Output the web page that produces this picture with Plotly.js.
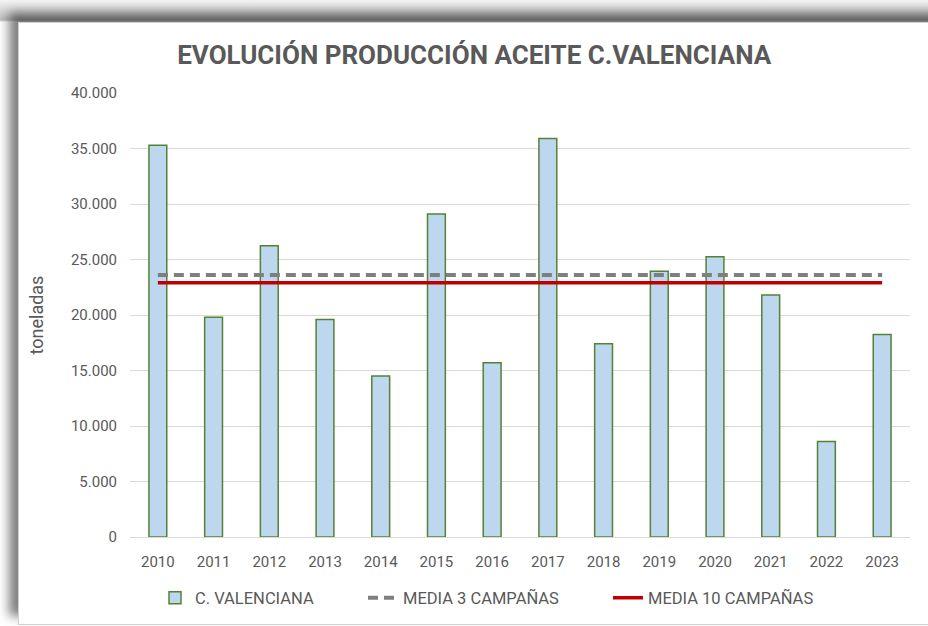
<!DOCTYPE html>
<html>
<head>
<meta charset="utf-8">
<script src="https://cdn.plot.ly/plotly-3.0.1.min.js"></script>
<style>
  html, body { margin: 0; padding: 0; background: #ffffff; }
  #wrap { position: relative; width: 928px; height: 626px; overflow: hidden;
          background: linear-gradient(to bottom, #f4f4f4 0px, #bdbdbd 20px, #ffffff 22px); }
  #card { position: absolute; left: 18px; top: 22px; width: 930px; height: 601px;
          background: #ffffff; border: 1px solid #d0d0d0;
          box-shadow: -9px -9px 10px rgba(0,0,0,0.5); }
  #chart { position: absolute; left: 0; top: 0; width: 928px; height: 626px; }
</style>
</head>
<body>
<div id="wrap">
  <div id="card"></div>
  <div id="chart"></div>
</div>
<script>
const years = ["2010","2011","2012","2013","2014","2015","2016","2017","2018","2019","2020","2021","2022","2023"];
const produccion = [35300, 19800, 26250, 19600, 14500, 29100, 15700, 35900, 17400, 23950, 25250, 21800, 8600, 18250];
const media3 = [23600, 23600, 23600, 23600, 23600, 23600, 23600, 23600, 23600, 23600, 23600, 23600, 23600, 23600];
const media10 = [22900, 22900, 22900, 22900, 22900, 22900, 22900, 22900, 22900, 22900, 22900, 22900, 22900, 22900];
const yTicks = [0, 5000, 10000, 15000, 20000, 25000, 30000, 35000, 40000];

const txt = '#595959';
const fnt = 'Roboto, "Liberation Sans", Arial, sans-serif';

const traces = [
  { type: 'bar', x: years, y: produccion, name: 'C. VALENCIANA', width: 0.32,
    marker: { color: '#bdd7ee', line: { color: '#548235', width: 1.5 } },
    legend: 'legend', hoverinfo: 'x+y' },
  { type: 'scatter', mode: 'lines', x: years, y: media3, name: 'MEDIA 3 CAMPAÑAS',
    line: { color: '#7f7f7f', width: 4, dash: '10px,6px' }, legend: 'legend2' },
  { type: 'scatter', mode: 'lines', x: years, y: media10, name: 'MEDIA 10 CAMPAÑAS',
    line: { color: '#c00000', width: 3.5 }, legend: 'legend3' }
];

const legBase = { orientation: 'h', yanchor: 'middle', y: -0.135, xanchor: 'left',
  bgcolor: 'rgba(0,0,0,0)', font: { family: fnt, size: 16.5, color: txt } };

const layout = {
  width: 928, height: 626,
  paper_bgcolor: 'rgba(0,0,0,0)', plot_bgcolor: 'rgba(0,0,0,0)',
  margin: { l: 130, r: 18, t: 93, b: 88 },
  separators: ',.',
  font: { family: fnt, color: txt },
  title: { text: 'EVOLUCIÓN PRODUCCIÓN ACEITE C.VALENCIANA', xref: 'container', yref: 'container',
    x: 0.511, xanchor: 'center', y: 0.912, yanchor: 'middle',
    font: { family: fnt, size: 26, color: txt, weight: 'bold' } },
  xaxis: { type: 'category', tickvals: years, ticktext: years, showgrid: false, showline: false,
    tickfont: { family: fnt, size: 15, color: txt }, ticks: '', ticklabelstandoff: 14, fixedrange: true },
  yaxis: { range: [0, 40000], tickvals: yTicks, tickformat: ',d', showgrid: true,
    gridcolor: '#d9d9d9', gridwidth: 1, zeroline: true, zerolinecolor: '#d9d9d9', zerolinewidth: 1,
    showline: false, ticks: '', ticklabelstandoff: 12,
    tickfont: { family: fnt, size: 15, color: txt },
    title: { text: 'toneladas', font: { family: fnt, size: 18, color: txt }, standoff: 22 }, fixedrange: true },
  showlegend: true,
  legend: Object.assign({}, legBase, { x: (155 - 130) / 780 }),
  legend2: Object.assign({}, legBase, { x: (363 - 130) / 780 }),
  legend3: Object.assign({}, legBase, { x: (608 - 130) / 780 }),
  bargap: 0.68
};

Plotly.newPlot('chart', traces, layout, { displayModeBar: false, staticPlot: true });
</script>
</body>
</html>
